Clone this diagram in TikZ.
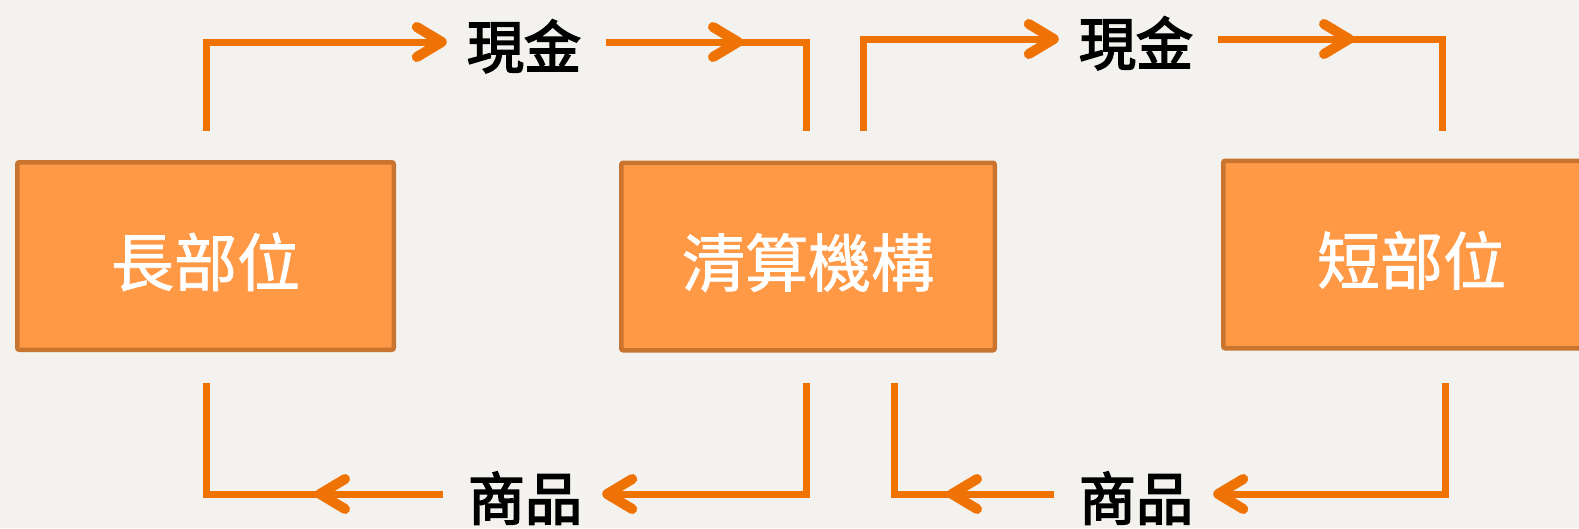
\documentclass[tikz,border=0pt]{standalone}
\usepackage{fontspec}
\newfontfamily\cjk{Noto Sans CJK TC}[FakeBold=1.2]
\newfontfamily\cjkl{Noto Sans CJK TC}[FakeBold=3]
\definecolor{bgc}{HTML}{F3F2EE}
\definecolor{boxfill}{HTML}{FF9946}
\definecolor{boxborder}{HTML}{C97530}
\definecolor{flowc}{HTML}{EF7204}
\begin{document}
\begin{tikzpicture}[x=1pt,y=-1pt,
  box/.style={draw=boxborder,fill=boxfill,line width=4.5pt,rounded corners=2pt,
    minimum width=376.5pt,minimum height=187.5pt,text=white,
    text height=70pt,text depth=10pt,inner sep=0pt,
    font=\cjk\fontsize{63}{63}\selectfont},
  lbl/.style={font=\cjkl\fontsize{57}{57}\selectfont,inner xsep=25pt,
    inner ysep=0pt,text height=62pt,text depth=10pt},
  flow/.style={draw=flowc,line width=7pt},
  chev/.pic={\draw[flowc,line width=10pt,line cap=round,line join=round]
    (-25,-15) -- (0,0) -- (-25,15);}
]
\useasboundingbox (0,0) rectangle (1579,528);
\fill[bgc] (0,0) rectangle (1579,528);

% boxes
\node[box] (L) at (205.5,256) {長部位};
\node[box,minimum width=373.5pt] (C) at (808,256.5) {清算機構};
\node[box] (R) at (1411.5,254.5) {短部位};

% labels
\node[lbl] (cash1) at (524,42) {現金};
\node[lbl] (cash2) at (1136,39) {現金};
\node[lbl] (goods1) at (525,494) {商品};
\node[lbl] (goods2) at (1136,494) {商品};

% free ends
\coordinate (a1) at (206,131);
\coordinate (m1) at (738,42);
\coordinate (c1) at (806,131);
\coordinate (b1) at (863,131);
\coordinate (m2) at (1349,39);
\coordinate (c2) at (1442,131);
\coordinate (d1) at (806,383);
\coordinate (m3) at (320,494);
\coordinate (e1) at (206,383);
\coordinate (d2) at (1445,383);
\coordinate (m4) at (952,494);
\coordinate (e2) at (894,383);

% top left: long -> clearing (cash)
\draw[flow,shorten >=4pt] (a1) |- (cash1.west);
\pic at (cash1.west) {chev};
\draw[flow] (cash1.east) -- (m1) -| (c1);
\pic at (m1) {chev};

% top right: clearing -> short (cash)
\draw[flow,shorten >=4pt] (b1) |- (cash2.west);
\pic at (cash2.west) {chev};
\draw[flow] (cash2.east) -- (m2) -| (c2);
\pic at (m2) {chev};

% bottom left: clearing -> long (goods)
\draw[flow,shorten >=4pt] (d1) |- (goods1.east);
\pic[rotate=180] at (goods1.east) {chev};
\draw[flow] (goods1.west) -- (m3) -| (e1);
\pic[rotate=180] at (m3) {chev};

% bottom right: short -> clearing (goods)
\draw[flow,shorten >=4pt] (d2) |- (goods2.east);
\pic[rotate=180] at (goods2.east) {chev};
\draw[flow] (goods2.west) -- (m4) -| (e2);
\pic[rotate=180] at (m4) {chev};
\end{tikzpicture}
\end{document}
